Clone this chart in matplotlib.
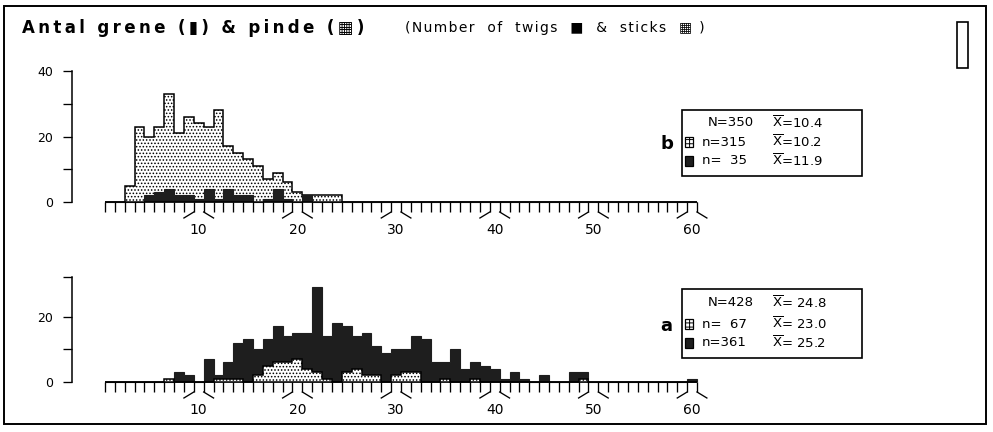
import numpy as np
import matplotlib
matplotlib.use("Agg")
import matplotlib.pyplot as plt
from matplotlib.patches import Rectangle

W, H, DPI = 993, 432, 100

# counts per bin (number of twigs / sticks), bins 1..60
bins = np.arange(1, 61)
edges = np.arange(0.5, 61.5, 1.0)

b_sticks = [0, 0, 5, 23, 20, 23, 33, 21, 26, 24,
            23, 28, 17, 15, 13, 11, 7, 9, 6, 3,
            2, 2, 2, 2, 0, 0, 0, 0, 0, 0] + [0] * 30
b_twigs = [0, 0, 0, 0, 2, 3, 4, 2, 2, 1,
           4, 1, 4, 2, 2, 0, 1, 4, 1, 0,
           2, 0, 0, 0, 0, 0, 0, 0, 0, 0] + [0] * 30

a_twigs = [0, 0, 0, 0, 0, 0, 0, 3, 2, 0,
           7, 2, 6, 12, 13, 10, 13, 17, 14, 15,
           15, 29, 14, 18, 17, 14, 15, 11, 9, 10,
           10, 14, 13, 6, 6, 10, 4, 6, 5, 4,
           1, 3, 1, 0, 2, 0, 0, 3, 3, 0,
           0, 0, 0, 0, 0, 0, 0, 0, 0, 1]
a_sticks = [0, 0, 0, 0, 0, 0, 1, 0, 0, 0,
            0, 1, 1, 1, 0, 2, 5, 6, 6, 7,
            4, 3, 1, 0, 3, 4, 2, 2, 0, 2,
            3, 3, 0, 0, 1, 0, 0, 1, 0, 0,
            0, 0, 0, 0, 0, 0, 0, 0, 1, 0] + [0] * 10

x_labels = [10, 20, 30, 40, 50, 60]
b_counts = ["N=350", "n=315", "n=  35"]
b_means = ["10.4", "10.2", "11.9"]
a_counts = ["N=428", "n=  67", "n=361"]
a_means = [" 24.8", " 23.0", " 25.2"]

DARK = "#1e1e1e"
plt.rcParams["hatch.linewidth"] = 0.7
plt.rcParams["mathtext.fontset"] = "dejavusans"

fig = plt.figure(figsize=(W / DPI, H / DPI), dpi=DPI)

# overlay in pixel coordinates for frame, titles and legend boxes
ov = fig.add_axes([0, 0, 1, 1])
ov.set_xlim(0, W)
ov.set_ylim(H, 0)
ov.axis("off")

ov.add_patch(Rectangle((4, 6), 982, 418, fill=False, lw=1.4, ec="black"))
ov.add_patch(Rectangle((957, 22), 11, 46, fill=False, lw=1.2, ec="black"))

sp = "\u2009"
ov.text(22, 28, sp.join("Antal grene (▮) & pinde (▦)"), fontsize=12,
        fontweight="bold", va="center", ha="left")
ov.text(405, 28, "\u200a".join("(Number  of  twigs  ■  &  sticks  ▦ )"),
        fontsize=10, va="center", ha="left")

KX = 592 / 60.0   # px per bin
S = 3.275         # px per count
AX_L, AX_R = 72, 720


def legend_box(top, rows, counts, means, letter):
    ov.add_patch(Rectangle((682, top), 180, rows[2] - top + 15,
                           fill=False, lw=1.2, ec="black"))
    ov.text(660, rows[1] + 2, letter, fontsize=13, fontweight="bold",
            ha="left", va="center")
    for i, (c, m) in enumerate(zip(counts, means)):
        x0 = 708 if i == 0 else 702
        ov.text(x0, rows[i], c, fontsize=9.5, ha="left", va="center")
        ov.text(772, rows[i], r"$\overline{\rm X}$=" + m, fontsize=9.5,
                ha="left", va="center")
    # symbols for sticks and twigs
    ov.add_patch(Rectangle((685, rows[1] - 5), 8, 10, fc="white", ec="black",
                           lw=0.9, hatch="++++"))
    ov.add_patch(Rectangle((685, rows[2] - 5), 8, 10, fc=DARK, ec="black",
                           lw=0.9))


def panel(top, bottom, zero, back, front, back_kw, front_kw, ymax,
          major, minor):
    ax = fig.add_axes([AX_L / W, 1 - bottom / H, (AX_R - AX_L) / W,
                       (bottom - top) / H])
    ax.patch.set_alpha(0)
    ax.set_xlim(0.5 - (105 - AX_L) / KX, 60.5 + (AX_R - 697) / KX)
    ax.set_ylim((zero - bottom) / S, (zero - top) / S)
    for s in ["top", "right", "bottom"]:
        ax.spines[s].set_visible(False)
    ax.spines["left"].set_bounds(0, ymax)
    ax.spines["left"].set_linewidth(1.1)
    ax.set_xticks([])
    ax.set_yticks(major)
    ax.set_yticks(minor, minor=True)
    ax.tick_params(axis="y", which="both", direction="out", length=6.5,
                   width=0.95, pad=7, labelsize=9)

    ax.stairs(back, edges, fill=True, **back_kw)
    ax.stairs(front, edges, fill=True, **front_kw)

    # x axis with a tick at every bin edge
    t = 10 / S
    ax.plot([edges[0], edges[-1]], [0, 0], color="black", lw=1.1,
            clip_on=False, solid_capstyle="butt")
    ax.vlines(edges, -t, 0, color="black", lw=0.95, clip_on=False)
    for lab in x_labels:
        ax.plot([lab - 1.5, lab - 0.5], [-t - 6 / S, -t], color="black",
                lw=0.95, clip_on=False)
        ax.plot([lab + 0.5, lab + 1.5], [-t, -t - 6 / S], color="black",
                lw=0.95, clip_on=False)
        ax.text(lab, -28 / S, str(lab), ha="center", va="center",
                fontsize=10)
    return ax


dots = dict(facecolor="white", edgecolor="black", hatch=".....", lw=1.1)
solid = dict(facecolor=DARK, edgecolor=DARK, lw=0.8)

panel(60, 240, 202, b_sticks, b_twigs, dots, solid, 40, [0, 20, 40], [10, 30])
panel(262, 420, 382, a_twigs, a_sticks, solid, dots, 32, [0, 20], [10, 32])

legend_box(110, [123, 142, 161], b_counts, b_means, "b")
legend_box(289, [303, 324, 343], a_counts, a_means, "a")

fig.savefig("out.png", dpi=DPI)
